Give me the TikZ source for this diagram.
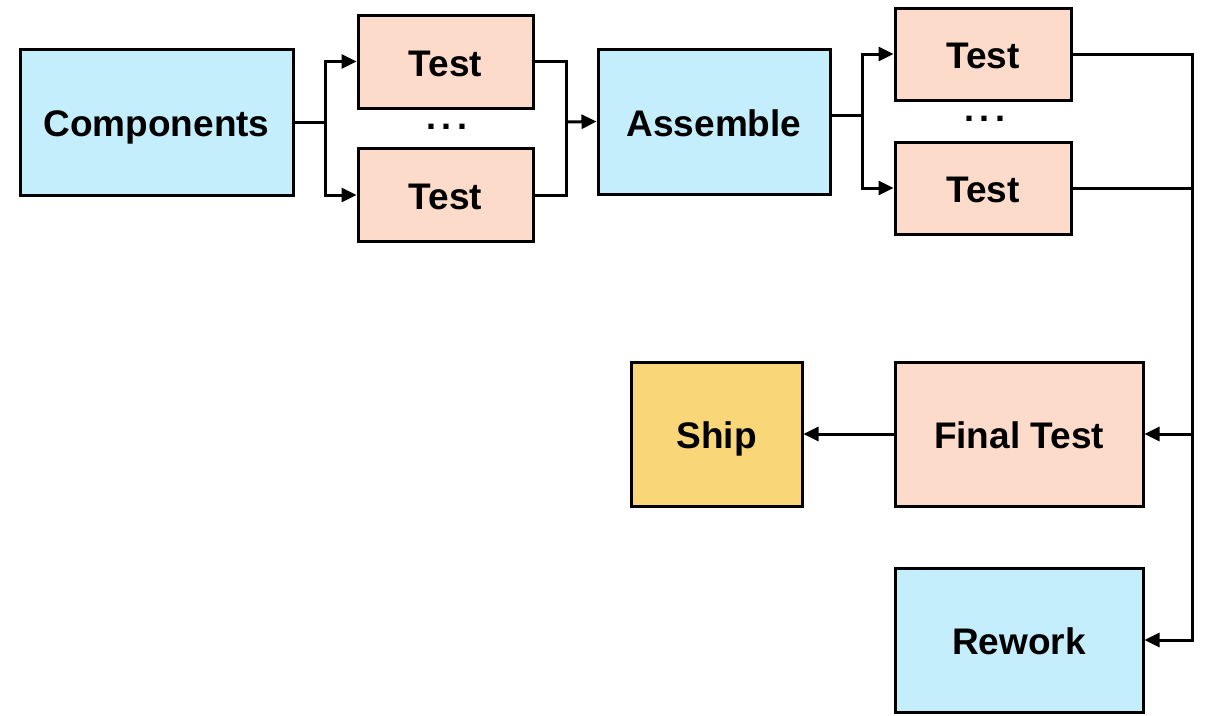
\documentclass[tikz,border=0pt]{standalone}
\usepackage{fontspec}
\setmainfont{Liberation Sans}
\usetikzlibrary{arrows.meta}
\definecolor{cblue}{HTML}{C5EEFC}
\definecolor{cpeach}{HTML}{FDDBCB}
\definecolor{cyellow}{HTML}{F9D778}
\begin{document}
\begin{tikzpicture}[x=1pt,y=-1pt,
  box/.style={draw=black, line width=3pt, inner sep=0pt,
    font=\fontsize{37}{41}\selectfont\bfseries, text height=29.5pt, text depth=0pt},
  bluebox/.style={box, fill=cblue},
  peachbox/.style={box, fill=cpeach},
  yellowbox/.style={box, fill=cyellow},
  conn/.style={draw=black, line width=3pt},
  arr/.style={conn, -{Triangle[length=15pt,width=14pt]}},
  dotsnode/.style={inner sep=0pt, anchor=base, font=\fontsize{36}{40}\selectfont\bfseries}
]
\useasboundingbox (0,0) rectangle (1206,715);
\fill[white] (0,0) rectangle (1206,715);

\node[bluebox, minimum width=273pt, minimum height=146pt] (comp) at (156.5,122) {Components};
\node[peachbox, minimum width=175pt, minimum height=93pt] (t1) at (445.5,61.5) {Test};
\node[peachbox, minimum width=175pt, minimum height=93pt] (t2) at (445.5,195) {Test};
\node[dotsnode] (d1) at (447,129) {.\hspace{0.15em}.\hspace{0.15em}.};
\node[bluebox, minimum width=232pt, minimum height=145pt] (asm) at (714,121.5) {Assemble};
\node[peachbox, minimum width=176pt, minimum height=92pt] (t3) at (983,54) {Test};
\node[peachbox, minimum width=176pt, minimum height=92pt] (t4) at (983,188) {Test};
\node[dotsnode] (d2) at (985,121) {.\hspace{0.15em}.\hspace{0.15em}.};
\node[peachbox, minimum width=248pt, minimum height=144pt] (ft) at (1019,434) {Final Test};
\node[yellowbox, minimum width=171pt, minimum height=144pt] (ship) at (716.5,434) {Ship};
\node[bluebox, minimum width=248pt, minimum height=144pt] (rw) at (1019,640) {Rework};

% split after Components
\coordinate (s1) at (325,122);
\draw[conn] (comp.east) -- (s1);
\draw[arr] (s1) |- (t1.west);
\draw[arr] (s1) |- (t2.west);

% merge before Assemble
\coordinate (m1) at (566,122);
\draw[conn] (t1.east) -| (m1);
\draw[conn] (t2.east) -| (m1);
\draw[arr] (m1) -- (asm.west);

% split after Assemble
\coordinate (s2) at (862,115);
\draw[conn] (asm.east |- s2) -- (s2);
\draw[arr] (s2) |- (t3.west);
\draw[arr] (s2) |- (t4.west);

% bus on the right
\coordinate (bb) at (1192,640);
\draw[arr] (t3.east) -| (bb) -- (rw.east);
\draw[conn] (t4.east) -- (t4.east -| bb);
\draw[arr] (ft.east -| bb) -- (ft.east);
\draw[arr] (ft.west) -- (ship.east);
\end{tikzpicture}
\end{document}
